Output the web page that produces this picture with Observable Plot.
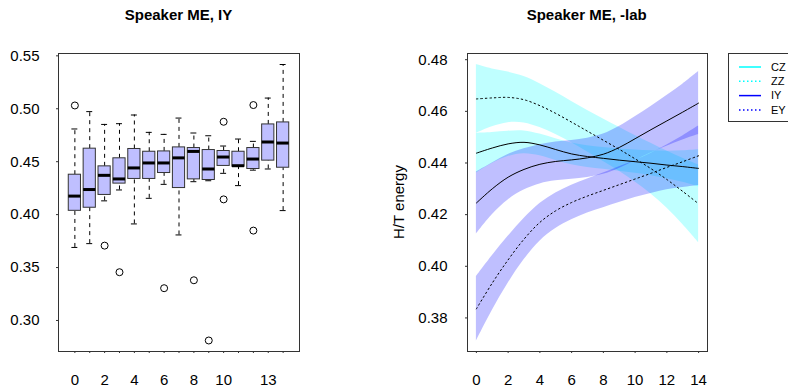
<!DOCTYPE html>
<html>
<head>
<meta charset="utf-8">
<script src="https://cdn.jsdelivr.net/npm/d3@7"></script>
<script src="https://cdn.jsdelivr.net/npm/@observablehq/plot@0.6"></script>
<style>
  html, body { margin: 0; padding: 0; background: #fff; }
  #wrap { position: relative; width: 788px; height: 387px; overflow: hidden; font-family: "Liberation Sans", Arial, sans-serif; }
  .panel { position: absolute; top: 0; }
  .title { position: absolute; font-weight: bold; font-size: 15px; transform: translate(-50%, -50%); white-space: nowrap; }
  .ylab { position: absolute; font-size: 15px; transform: translate(-50%, -50%) rotate(-90deg); white-space: nowrap; }
  #legend { position: absolute; left: 728px; top: 53px; width: 90px; height: 69px; border: 1px solid #333; box-sizing: border-box; background: #fff; }
</style>
</head>
<body>
<div id="wrap"></div>
<script>
// ---------- Left panel: boxplots ----------
const boxIdx   = [0,1,2,3,4,5,6,7,8,9,10,11,12,13,14];
const boxLabel = ["0","","2","","4","","6","","8","","10","","","13",""];
const boxLo  = [0.3690,0.3726,0.4130,0.4233,0.3912,0.4154,0.4286,0.3808,0.4311,0.4320,0.4390,0.4274,0.4420,0.4431,0.4038];
const boxQ1  = [0.4036,0.4065,0.4186,0.4293,0.4337,0.4337,0.4393,0.4251,0.4333,0.4327,0.4460,0.4453,0.4431,0.4510,0.4443];
const boxMed = [0.4175,0.4237,0.4371,0.4337,0.4441,0.4488,0.4488,0.4536,0.4597,0.4431,0.4544,0.4462,0.4525,0.4686,0.4676];
const boxQ3  = [0.4377,0.4623,0.4456,0.4532,0.4620,0.4594,0.4597,0.4635,0.4629,0.4610,0.4601,0.4594,0.4629,0.4852,0.4871];
const boxHi  = [0.4809,0.4973,0.4852,0.4859,0.4941,0.4777,0.4758,0.4912,0.4771,0.4745,0.4648,0.4714,0.4692,0.5101,0.5418];
const outX   = [0, 2, 3, 6, 8, 9, 10, 10, 12, 12];
const outY   = [0.5031,0.3707,0.3456,0.3305,0.3380,0.2811,0.4877,0.4144,0.5035,0.3849];
const leftYTicks = [0.30,0.35,0.40,0.45,0.50,0.55];

// ---------- Right panel: smooths with ribbons ----------
const sx = [0,1,2,3,4,5,6,7,8,9,10,11,12,13,14];
const czMean = [0.4438,0.4458,0.4474,0.4480,0.4470,0.4452,0.4435,0.4425,0.4418,0.4411,0.4405,0.4399,0.4392,0.4386,0.4379];
const czSe   = [0.0077,0.0060,0.0049,0.0044,0.0042,0.0042,0.0042,0.0042,0.0042,0.0043,0.0045,0.0048,0.0053,0.0061,0.0072];
const zzMean = [0.4648,0.4652,0.4654,0.4645,0.4622,0.4592,0.4558,0.4523,0.4488,0.4453,0.4416,0.4378,0.4336,0.4290,0.4242];
const zzSe   = [0.0133,0.0112,0.0098,0.0090,0.0085,0.0082,0.0080,0.0080,0.0082,0.0085,0.0090,0.0098,0.0110,0.0128,0.0150];
const iyMean = [0.4245,0.4300,0.4345,0.4375,0.4395,0.4406,0.4412,0.4420,0.4434,0.4460,0.4494,0.4529,0.4563,0.4597,0.4632];
const iySe   = [0.0120,0.0100,0.0088,0.0080,0.0076,0.0075,0.0075,0.0076,0.0078,0.0081,0.0085,0.0090,0.0098,0.0108,0.0122];
const eyMean = [0.3835,0.3935,0.4025,0.4105,0.4170,0.4215,0.4247,0.4272,0.4294,0.4316,0.4338,0.4360,0.4383,0.4405,0.4428];
const eySe   = [0.0125,0.0106,0.0091,0.0080,0.0073,0.0069,0.0067,0.0066,0.0067,0.0069,0.0072,0.0078,0.0087,0.0100,0.0115];
const rightXTicks = [0,2,4,6,8,10,12,14];
const rightYTicks = [0.38,0.40,0.42,0.44,0.46,0.48];

const legendNames  = ["CZ","ZZ","IY","EY"];
const legendColors = ["#00FFFF","#00FFFF","#0000FF","#0000FF"];
const legendDash   = ["none","1.5,2.5","none","1.5,2.5"];

const FONT = '"Liberation Sans", Arial, sans-serif';

// build tables
const boxes = boxIdx.map((i, k) => ({i, lo: boxLo[k], q1: boxQ1[k], med: boxMed[k], q3: boxQ3[k], hi: boxHi[k]}));
const outliers = outX.map((x, k) => ({x, y: outY[k]}));
const series = [
  {name: "CZ", mean: czMean, se: czSe, fill: "#00FFFF", dash: null},
  {name: "ZZ", mean: zzMean, se: zzSe, fill: "#00FFFF", dash: "1.5,3"},
  {name: "IY", mean: iyMean, se: iySe, fill: "#0000FF", dash: null},
  {name: "EY", mean: eyMean, se: eySe, fill: "#0000FF", dash: "1.5,3"}
];
const rowsOf = s => sx.map((x, k) => ({x, m: s.mean[k], lo: s.mean[k] - s.se[k], hi: s.mean[k] + s.se[k]}));

const wrap = document.getElementById("wrap");
const axisStyle = {fontFamily: FONT, fontSize: "15px", color: "#000", background: "transparent", overflow: "visible"};

const left = Plot.plot({
  width: 394, height: 387,
  marginLeft: 58, marginRight: 95, marginTop: 53, marginBottom: 36,
  style: axisStyle,
  x: {domain: [-1.1, 15.1]},
  y: {domain: [0.2707, 0.5522]},
  marks: [
    Plot.axisX({ticks: boxIdx, tickFormat: (d) => boxLabel[d], tickSize: 2, tickPadding: 21, label: null, stroke: "#333"}),
    Plot.axisY({ticks: leftYTicks, tickFormat: d3.format(".2f"), tickSize: 2, tickPadding: 17, label: null, stroke: "#333"}),
    Plot.ruleX(boxes, {x: "i", y1: "lo", y2: "q1", stroke: "#000", strokeDasharray: "4,4"}),
    Plot.ruleX(boxes, {x: "i", y1: "q3", y2: "hi", stroke: "#000", strokeDasharray: "4,4"}),
    Plot.ruleY(boxes, {y: "lo", x1: d => d.i - 0.2, x2: d => d.i + 0.2, stroke: "#000"}),
    Plot.ruleY(boxes, {y: "hi", x1: d => d.i - 0.2, x2: d => d.i + 0.2, stroke: "#000"}),
    Plot.rect(boxes, {x1: d => d.i - 0.41, x2: d => d.i + 0.41, y1: "q1", y2: "q3", fill: "#BFBFFF", stroke: "#333", strokeWidth: 1}),
    Plot.ruleY(boxes, {y: "med", x1: d => d.i - 0.41, x2: d => d.i + 0.41, stroke: "#000", strokeWidth: 3}),
    Plot.dot(outliers, {x: "x", y: "y", r: 3.5, stroke: "#000", fill: "#fff", strokeWidth: 1}),
    Plot.frame({stroke: "#333"})
  ]
});
left.classList.add("panel");
left.style.left = "0px";
wrap.appendChild(left);

const rightMarks = [
  Plot.axisX({ticks: rightXTicks, tickSize: 2, tickPadding: 21, label: null, stroke: "#333"}),
  Plot.axisY({ticks: rightYTicks, tickFormat: d3.format(".2f"), tickSize: 2, tickPadding: 18, label: null, stroke: "#333"})
];
for (const s of series) {
  rightMarks.push(Plot.areaY(rowsOf(s), {x: "x", y1: "lo", y2: "hi", fill: s.fill, fillOpacity: 0.25, curve: "catmull-rom"}));
}
for (const s of series) {
  rightMarks.push(Plot.lineY(rowsOf(s), {x: "x", y: "m", stroke: "#000", strokeWidth: 1, strokeDasharray: s.dash, curve: "catmull-rom"}));
}
rightMarks.push(Plot.frame({stroke: "#333"}));

const right = Plot.plot({
  width: 394, height: 387,
  marginLeft: 73, marginRight: 81, marginTop: 53, marginBottom: 36,
  style: axisStyle,
  x: {domain: [-0.56, 14.56]},
  y: {domain: [0.367, 0.4824]},
  marks: rightMarks
});
right.classList.add("panel");
right.style.left = "394px";
wrap.appendChild(right);

// titles & axis label
function addText(cls, txt, x, y) {
  const d = document.createElement("div");
  d.className = cls; d.textContent = txt;
  d.style.left = x + "px"; d.style.top = y + "px";
  wrap.appendChild(d);
}
addText("title", "Speaker ME, IY", 178.5, 14);
addText("title", "Speaker ME, -lab", 586.7, 14);
addText("ylab", "H/T energy", 398, 202);

// legend
const lg = document.createElement("div");
lg.id = "legend";
const ns = "http://www.w3.org/2000/svg";
const lsvg = document.createElementNS(ns, "svg");
lsvg.setAttribute("width", 90); lsvg.setAttribute("height", 69);
lsvg.style.fontFamily = FONT; lsvg.style.fontSize = "11px";
legendNames.forEach((n, k) => {
  const yy = 13 + k * 14.3;
  const ln = document.createElementNS(ns, "line");
  ln.setAttribute("x1", 10); ln.setAttribute("x2", 32);
  ln.setAttribute("y1", yy); ln.setAttribute("y2", yy);
  ln.setAttribute("stroke", legendColors[k]); ln.setAttribute("stroke-width", 1.5);
  if (legendDash[k] !== "none") ln.setAttribute("stroke-dasharray", legendDash[k]);
  lsvg.appendChild(ln);
  const t = document.createElementNS(ns, "text");
  t.setAttribute("x", 42); t.setAttribute("y", yy); t.setAttribute("dy", "0.35em");
  t.textContent = n;
  lsvg.appendChild(t);
});
lg.appendChild(lsvg);
wrap.appendChild(lg);
</script>
</body>
</html>
